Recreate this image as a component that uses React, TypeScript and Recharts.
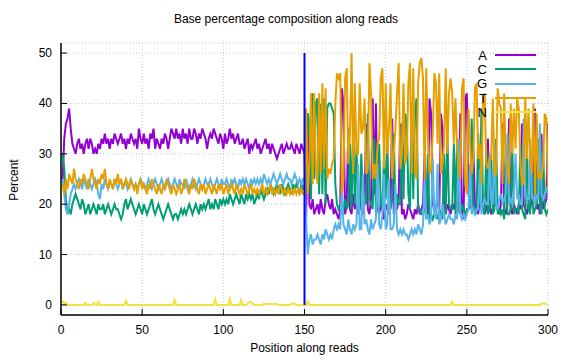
import React from "react";
import {
  LineChart,
  Line,
  XAxis,
  YAxis,
  CartesianGrid,
  ReferenceLine,
} from "recharts";

const FONT = '"Liberation Sans", Arial, sans-serif';

// base percentages per read position 1..300
const aPct = [
  25, 33, 36, 37, 39, 35, 32, 31, 30, 32, 33, 31, 32, 30, 32, 33, 31, 33, 32, 30, 31, 30, 32, 31, 33, 32, 34, 32, 33, 31,
  33, 32, 34, 33, 32, 33, 34, 32, 33, 31, 33, 32, 34, 33, 32, 33, 31, 35, 33, 32, 34, 32, 33, 31, 34, 33, 35, 31, 33, 32,
  31, 33, 32, 34, 33, 31, 33, 35, 34, 33, 35, 33, 34, 32, 35, 33, 34, 32, 35, 33, 33, 35, 34, 32, 34, 33, 35, 34, 33, 31,
  33, 34, 33, 35, 34, 33, 32, 34, 33, 31, 34, 32, 33, 35, 33, 34, 32, 33, 34, 32, 32, 33, 31, 32, 33, 30, 32, 31, 32, 33,
  31, 32, 30, 31, 32, 33, 31, 32, 30, 32, 31, 30, 29, 30, 31, 32, 30, 31, 32, 31, 31, 32, 31, 30, 32, 31, 30, 32, 31, 30,
  17, 38, 20, 19, 21, 18, 19, 20, 18, 21, 19, 18, 21, 22, 20, 19, 21, 18, 19, 18, 17, 19, 43, 40, 18, 20, 35, 19, 18, 22,
  19, 20, 18, 21, 19, 18, 20, 36, 19, 18, 21, 41, 22, 40, 19, 18, 20, 19, 17, 20, 19, 18, 20, 37, 18, 20, 19, 21, 36, 18,
  19, 17, 18, 20, 19, 18, 17, 19, 18, 20, 18, 19, 20, 30, 19, 18, 41, 38, 20, 19, 19, 22, 18, 38, 35, 19, 18, 20, 19, 18,
  20, 19, 21, 18, 20, 38, 19, 17, 41, 42, 22, 20, 19, 31, 20, 19, 18, 21, 19, 20, 18, 19, 33, 20, 18, 19, 21, 20, 19, 18,
  20, 36, 19, 18, 20, 37, 19, 18, 20, 19, 18, 20, 19, 36, 20, 19, 18, 20, 19, 21, 20, 39, 19, 20, 18, 34, 19, 20, 21, 36,
];

const cPct = [
  30, 27, 21, 18, 19, 18, 20, 21, 22, 21, 20, 19, 21, 20, 18, 19, 20, 18, 19, 20, 19, 18, 20, 19, 19, 20, 18, 19, 20, 19,
  18, 19, 20, 19, 19, 18, 17, 18, 20, 21, 19, 20, 21, 20, 19, 18, 19, 20, 19, 18, 20, 19, 18, 19, 20, 21, 19, 18, 19, 20,
  19, 18, 17, 18, 19, 20, 19, 18, 17, 18, 18, 17, 18, 19, 18, 19, 18, 19, 20, 19, 18, 19, 20, 19, 18, 20, 19, 20, 19, 20,
  21, 19, 20, 19, 21, 20, 19, 21, 20, 21, 20, 21, 20, 22, 21, 20, 21, 22, 21, 20, 22, 21, 20, 22, 21, 22, 21, 22, 20, 21,
  22, 21, 23, 22, 21, 22, 23, 22, 24, 23, 22, 23, 24, 23, 22, 24, 23, 22, 23, 24, 23, 22, 24, 23, 24, 23, 22, 24, 23, 24,
  22, 38, 36, 21, 42, 25, 40, 41, 22, 40, 22, 41, 20, 39, 40, 40, 39, 38, 24, 20, 19, 20, 18, 19, 21, 19, 20, 32, 19, 36,
  20, 31, 21, 19, 30, 20, 22, 20, 38, 21, 20, 19, 33, 18, 21, 32, 20, 19, 30, 21, 32, 20, 19, 21, 34, 19, 22, 20, 20, 36,
  21, 38, 36, 22, 19, 40, 21, 38, 41, 19, 19, 18, 18, 20, 17, 30, 17, 18, 17, 18, 18, 17, 19, 18, 17, 30, 18, 34, 20, 19,
  19, 32, 18, 33, 19, 18, 20, 19, 18, 19, 19, 20, 37, 20, 19, 18, 34, 20, 39, 19, 18, 31, 18, 19, 30, 18, 19, 33, 18, 19,
  18, 19, 17, 31, 18, 18, 19, 31, 18, 19, 19, 18, 32, 19, 18, 17, 31, 19, 18, 30, 18, 19, 20, 33, 19, 18, 31, 19, 18, 19,
];

const gPct = [
  25, 22, 19, 18, 20, 22, 23, 24, 23, 24, 25, 24, 23, 25, 24, 23, 25, 24, 23, 24, 25, 24, 22, 21, 24, 23, 25, 24, 23, 24,
  24, 23, 25, 24, 23, 24, 25, 23, 24, 24, 23, 24, 25, 24, 23, 24, 23, 24, 25, 24, 24, 23, 24, 25, 24, 23, 24, 25, 24, 23,
  24, 25, 24, 23, 24, 25, 24, 23, 24, 25, 24, 23, 25, 24, 24, 23, 25, 24, 23, 24, 25, 24, 23, 24, 25, 24, 23, 24, 25, 24,
  24, 25, 24, 23, 24, 25, 24, 23, 25, 24, 24, 25, 24, 23, 25, 24, 25, 24, 23, 25, 24, 25, 24, 25, 24, 23, 25, 24, 25, 24,
  25, 24, 25, 24, 26, 25, 24, 25, 24, 25, 26, 25, 24, 25, 26, 25, 24, 25, 26, 25, 25, 24, 25, 26, 25, 24, 25, 24, 25, 25,
  17, 10, 13, 14, 12, 13, 13, 14, 13, 12, 14, 13, 15, 14, 13, 14, 13, 15, 16, 15, 16, 15, 24, 16, 15, 14, 17, 15, 14, 16,
  15, 16, 28, 15, 15, 26, 16, 17, 15, 14, 17, 15, 16, 17, 28, 16, 15, 18, 26, 15, 16, 25, 15, 15, 16, 24, 15, 14, 15, 14,
  15, 14, 14, 13, 14, 15, 14, 15, 14, 16, 15, 14, 16, 25, 17, 18, 16, 17, 29, 18, 17, 28, 16, 17, 20, 18, 16, 17, 18, 17,
  17, 16, 18, 17, 33, 18, 17, 18, 17, 18, 19, 28, 18, 19, 18, 19, 19, 27, 18, 20, 21, 20, 20, 30, 21, 20, 32, 20, 19, 21,
  22, 20, 21, 22, 34, 20, 21, 20, 22, 30, 21, 22, 20, 20, 37, 22, 21, 21, 33, 22, 21, 20, 22, 21, 36, 22, 21, 22, 23, 22,
];

const tPct = [
  24, 22, 25, 23, 26, 25, 24, 27, 25, 24, 23, 25, 24, 26, 25, 24, 23, 25, 27, 25, 24, 23, 25, 24, 26, 25, 27, 24, 23, 25,
  24, 23, 25, 24, 26, 24, 25, 23, 24, 25, 24, 23, 25, 24, 23, 24, 22, 24, 25, 23, 24, 23, 22, 24, 23, 25, 24, 23, 22, 24,
  23, 22, 24, 23, 25, 24, 23, 22, 24, 23, 22, 23, 24, 22, 23, 25, 24, 23, 22, 24, 23, 25, 24, 23, 22, 24, 23, 24, 22, 23,
  24, 23, 22, 24, 23, 22, 24, 23, 24, 22, 23, 24, 22, 23, 24, 23, 22, 24, 23, 22, 23, 22, 24, 23, 22, 23, 24, 22, 23, 22,
  23, 22, 23, 24, 22, 23, 22, 23, 24, 22, 23, 22, 23, 22, 24, 23, 22, 23, 22, 23, 22, 23, 22, 23, 22, 23, 22, 23, 22, 22,
  39, 22, 28, 42, 24, 42, 27, 24, 42, 26, 44, 27, 43, 25, 27, 26, 28, 29, 40, 46, 45, 46, 22, 25, 45, 47, 28, 34, 50, 26,
  44, 30, 30, 44, 34, 35, 41, 26, 27, 48, 42, 25, 28, 25, 32, 33, 45, 47, 27, 44, 30, 35, 44, 25, 30, 35, 42, 48, 27, 30,
  44, 28, 30, 44, 48, 26, 47, 27, 25, 44, 48, 49, 45, 25, 47, 33, 26, 27, 34, 46, 44, 32, 46, 26, 28, 32, 47, 30, 42, 45,
  42, 32, 41, 31, 27, 25, 43, 45, 24, 22, 39, 32, 26, 29, 43, 44, 29, 32, 24, 41, 42, 28, 27, 29, 29, 41, 26, 26, 43, 40,
  39, 24, 42, 28, 27, 24, 40, 30, 39, 31, 41, 39, 28, 24, 24, 41, 29, 39, 29, 26, 40, 22, 38, 25, 26, 25, 28, 38, 37, 23,
];

const nPct = [
  0.8, 0.1, 0.5, 0, 0, 0, 0, 0, 0, 0, 0, 0, 0, 0, 0.4, 0, 0, 0, 0, 0.4, 0.1, 0, 0.6, 0, 0, 0, 0, 0, 0, 0,
  0, 0, 0, 0, 0, 0, 0, 0, 0, 0.8, 0, 0, 0, 0, 0, 0, 0, 0, 0, 0, 0, 0, 0, 0, 0, 0, 0, 0, 0, 0,
  0, 0, 0, 0, 0, 0, 0, 0, 0, 1.0, 0, 0, 0, 0, 0, 0, 0, 0, 0, 0, 0, 0, 0, 0, 0, 0, 0, 0, 0, 0,
  0, 0, 0, 0, 1.1, 0, 0, 0, 0, 0, 0, 0, 0, 1.2, 0, 0, 0, 0, 0, 0, 1.0, 0, 0, 0, 0.3, 0.6, 0.6, 0.3, 0, 0,
  0, 0, 0, 0, 0.2, 0.2, 0.2, 0.2, 0.2, 0.2, 0.2, 0.2, 0.2, 0, 0, 0, 0, 0, 0, 0, 0, 0.2, 0.3, 0.2, 0, 0, 0, 0, 0, 0,
  0, 0.8, 0, 0, 0, 0, 0, 0, 0, 0, 0, 0, 0, 0, 0, 0, 0, 0, 0, 0, 0, 0, 0, 0, 0, 0, 0, 0, 0, 0,
  0, 0, 0, 0, 0, 0, 0, 0, 0, 0, 0, 0, 0, 0, 0, 0, 0, 0, 0, 0, 0, 0, 0, 0, 0, 0, 0, 0, 0, 0,
  0, 0, 0, 0, 0, 0, 0, 0, 0, 0, 0, 0, 0, 0, 0, 0, 0, 0, 0, 0, 0, 0, 0, 0, 0, 0, 0, 0, 0, 0,
  0.6, 0, 0, 0, 0, 0, 0, 0, 0, 0, 0, 0, 0, 0, 0, 0, 0, 0, 0, 0, 0, 0, 0, 0, 0, 0, 0, 0, 0, 0,
  0, 0, 0, 0, 0, 0, 0, 0, 0, 0, 0, 0, 0, 0, 0, 0, 0, 0, 0, 0, 0, 0, 0, 0, 0, 0.2, 0.3, 0.3, 0.2, 0,
];

const xTicks = [0, 50, 100, 150, 200, 250, 300];
const yTicks = [0, 10, 20, 30, 40, 50];

const series = [
  { key: "A", color: "#9400d3" },
  { key: "C", color: "#009e73" },
  { key: "G", color: "#56b4e9" },
  { key: "T", color: "#e69f00" },
  { key: "N", color: "#f0e442" },
];

const data = aPct.map((a, i) => ({
  pos: i + 1,
  A: a,
  C: cPct[i],
  G: gPct[i],
  T: tPct[i],
  N: nPct[i],
}));

const LeftTick = (props: any) => {
  const { x, y, payload } = props;
  return (
    <g>
      <line x1={x} x2={x + 6} y1={y} y2={y} stroke="#000" />
      <text x={x - 9} y={y + 4} textAnchor="end" fontSize={12} fontFamily={FONT} fill="#000">
        {payload.value}
      </text>
    </g>
  );
};

const RightTick = (props: any) => {
  const { x, y } = props;
  return <line x1={x} x2={x - 6} y1={y} y2={y} stroke="#000" />;
};

const BottomTick = (props: any) => {
  const { x, y, payload } = props;
  return (
    <g>
      <line x1={x} x2={x} y1={y} y2={y - 6} stroke="#000" />
      <text x={x} y={y + 19} textAnchor="middle" fontSize={12} fontFamily={FONT} fill="#000">
        {payload.value}
      </text>
    </g>
  );
};

const TopTick = (props: any) => {
  const { x, y } = props;
  return <line x1={x} x2={x} y1={y} y2={y + 6} stroke="#000" />;
};

// gnuplot-style key in the top right corner of the plot
const KeyBox = () => (
  <div
    style={{
      position: "absolute",
      left: 469,
      top: 48,
      fontFamily: FONT,
      fontSize: 13,
      color: "#000",
      zIndex: 2,
    }}
  >
    {series.map((s) => (
      <div key={s.key} style={{ display: "flex", alignItems: "center", height: 14.3 }}>
        <span style={{ width: 18, textAlign: "right", lineHeight: "13px" }}>{s.key}</span>
        <span style={{ width: 8 }} />
        <span style={{ width: 41, height: 2, background: s.color }} />
      </div>
    ))}
  </div>
);

export default function App() {
  return (
    <div style={{ position: "absolute", left: 0, top: 0, width: 576, height: 360, background: "#fff" }}>
      <div
        style={{
          position: "absolute",
          left: 0,
          width: 572,
          top: 12,
          textAlign: "center",
          fontFamily: FONT,
          fontSize: 12,
        }}
      >
        Base percentage composition along reads
      </div>
      <div
        style={{
          position: "absolute",
          left: 61,
          width: 487,
          top: 341,
          textAlign: "center",
          fontFamily: FONT,
          fontSize: 12,
        }}
      >
        Position along reads
      </div>
      <div
        style={{
          position: "absolute",
          left: -16,
          top: 173,
          width: 60,
          textAlign: "center",
          transform: "rotate(-90deg)",
          fontFamily: FONT,
          fontSize: 12,
        }}
      >
        Percent
      </div>
      <LineChart
        width={576}
        height={360}
        data={data}
        margin={{ top: 43, right: 28, bottom: 0, left: 0 }}
      >
        <CartesianGrid stroke="#c8c8c8" strokeDasharray="1 2" />
        <XAxis
          dataKey="pos"
          type="number"
          domain={[0, 300]}
          ticks={xTicks}
          height={45}
          tickSize={0}
          tickMargin={0}
          tickLine={false}
          tick={<BottomTick />}
          axisLine={{ stroke: "#000", strokeWidth: 1.5 }}
          allowDataOverflow
        />
        <XAxis
          xAxisId="top"
          orientation="top"
          dataKey="pos"
          type="number"
          domain={[0, 300]}
          ticks={xTicks}
          height={0}
          tickSize={0}
          tickMargin={0}
          tickLine={false}
          tick={<TopTick />}
          axisLine={{ stroke: "#000", strokeWidth: 1.5 }}
        />
        <YAxis
          type="number"
          domain={[-2, 52]}
          ticks={yTicks}
          width={61}
          tickSize={0}
          tickMargin={0}
          tickLine={false}
          tick={<LeftTick />}
          axisLine={{ stroke: "#000", strokeWidth: 1.5 }}
          allowDataOverflow
        />
        <YAxis
          yAxisId="right"
          orientation="right"
          type="number"
          domain={[-2, 52]}
          ticks={yTicks}
          width={0}
          tickSize={0}
          tickMargin={0}
          tickLine={false}
          tick={<RightTick />}
          axisLine={{ stroke: "#000", strokeWidth: 1.5 }}
        />
        {series.map((s) => (
          <Line
            key={s.key}
            type="linear"
            dataKey={s.key}
            stroke={s.color}
            strokeWidth={2}
            dot={false}
            isAnimationActive={false}
          />
        ))}
        <ReferenceLine
          segment={[
            { x: 150, y: 0 },
            { x: 150, y: 50 },
          ]}
          stroke="#0000ff"
          strokeWidth={2}
        />
      </LineChart>
      <KeyBox />
    </div>
  );
}
